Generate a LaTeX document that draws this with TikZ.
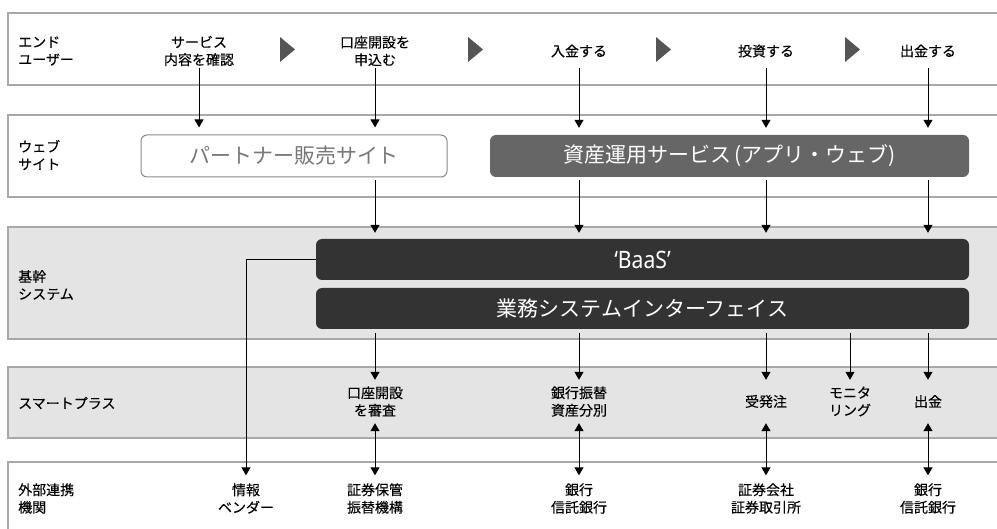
\documentclass[tikz,border=0pt]{standalone}
\usepackage{fontspec}
\setmainfont{Noto Sans CJK JP}[FakeBold=0.15]
\newfontfamily\plainjp{Noto Sans CJK JP}
\newfontfamily\latinfont{Noto Sans}
\usetikzlibrary{arrows.meta}
\definecolor{bandline}{HTML}{A8A8A8}
\definecolor{bandfill}{HTML}{E4E4E4}
\definecolor{darkbox}{HTML}{333333}
\definecolor{midbox}{HTML}{666666}
\definecolor{tricol}{HTML}{555555}
\definecolor{ptext}{HTML}{777777}
\definecolor{pline}{HTML}{888888}
\begin{document}
\begin{tikzpicture}[x=1pt,y=-1pt,
  band/.style={draw=bandline, line width=1.5pt},
  small/.style={font=\fontsize{14}{17.5}\selectfont},
  lbl/.style={small, align=left, anchor=west, inner sep=0pt},
  toptxt/.style={small, align=center, inner sep=0pt, minimum height=34pt},
  smarttxt/.style={small, align=center, inner sep=0pt, minimum height=43pt},
  exttxt/.style={small, align=center, inner sep=0pt, minimum height=46pt},
  bigbox/.style={rounded corners=6pt, inner sep=0pt, font=\plainjp\fontsize{21}{24}\selectfont},
  arr/.style={-{Triangle[length=8pt,width=9pt]}, line width=1pt},
  darr/.style={{Triangle[length=8pt,width=9pt]}-{Triangle[length=8pt,width=9pt]}, line width=1pt},
  tri/.style={fill=tricol}
]
\useasboundingbox (0,0) rectangle (997,529);
% bands
\draw[band] (8,13) rectangle (1010,85);
\draw[band] (8,115) rectangle (1010,197);
\draw[band, fill=bandfill] (8,227) rectangle (1010,339);
\draw[band, fill=bandfill] (8,367) rectangle (1010,438);
\draw[band] (8,462) rectangle (1010,545);
% row labels
\node[lbl] (L1) at (18,51) {エンド\\ユーザー};
\node[lbl] (L2) at (18,155) {ウェブ\\サイト};
\node[lbl] (L3) at (18,285) {基幹\\システム};
\node[lbl] (L4) at (18,403) {スマートプラス};
\node[lbl] (L5) at (18,498.5) {外部連携\\機関};
% top row
\node[toptxt] (t1) at (199,51) {サービス\\内容を確認};
\node[toptxt] (t2) at (375,51) {口座開設を\\申込む};
\node[toptxt] (t3) at (579,51) {入金する};
\node[toptxt] (t4) at (766,51) {投資する};
\node[toptxt] (t5) at (928,51) {出金する};
\fill[tri] (280,37) -- (295,49.5) -- (280,62) -- cycle;
\fill[tri] (468,37) -- (483,49.5) -- (468,62) -- cycle;
\fill[tri] (656,37) -- (671,49.5) -- (656,62) -- cycle;
\fill[tri] (845,37) -- (860,49.5) -- (845,62) -- cycle;
% web boxes
\node[bigbox, draw=pline, line width=1pt, text=ptext, minimum width=306pt, minimum height=42pt] (partner) at (294,156) {パートナー販売サイト};
\node[bigbox, fill=midbox, text=white, minimum width=479pt, minimum height=42pt] (asset) at (729.5,156) {資産運用サービス\,(アプリ・ウェブ)};
% core boxes
\node[bigbox, fill=darkbox, text=white, minimum width=653pt, minimum height=41pt] (baas) at (642.5,259.5) {\latinfont\fontsize{24}{26}\selectfont\scalebox{0.88}[1]{‘BaaS’}};
\node[bigbox, fill=darkbox, text=white, minimum width=653pt, minimum height=41pt] (biz) at (642.5,308.5) {業務システムインターフェイス};
% smart plus
\node[smarttxt] (s2) at (375,401.5) {口座開設\\を審査};
\node[smarttxt] (s3) at (579,401.5) {銀行振替\\資産分別};
\node[smarttxt] (s4) at (766,401.5) {受発注};
\node[smarttxt] (sm) at (850,401.5) {モニタ\\リング};
\node[smarttxt] (s5) at (928,401.5) {出金};
% external
\node[exttxt] (e0) at (246,498.5) {情報\\ベンダー};
\node[exttxt] (e2) at (375,498.5) {証券保管\\振替機構};
\node[exttxt] (e3) at (579,498.5) {銀行\\信託銀行};
\node[exttxt] (e4) at (766,498.5) {証券会社\\証券取引所};
\node[exttxt] (e5) at (928,498.5) {銀行\\信託銀行};
% arrows top -> web
\draw[arr, shorten >=7pt] (t1.south) -- (t1.south |- partner.north);
\draw[arr, shorten >=7pt] (t2.south) -- (t2.south |- partner.north);
\draw[arr, shorten >=7pt] (t3.south) -- (t3.south |- asset.north);
\draw[arr, shorten >=7pt] (t4.south) -- (t4.south |- asset.north);
\draw[arr, shorten >=7pt] (t5.south) -- (t5.south |- asset.north);
% web -> baas
\draw[arr, shorten <=3pt, shorten >=6pt] (partner.south -| t2) -- (baas.north -| t2);
\draw[arr, shorten <=3pt, shorten >=6pt] (asset.south -| t3) -- (baas.north -| t3);
\draw[arr, shorten <=3pt, shorten >=6pt] (asset.south -| t4) -- (baas.north -| t4);
\draw[arr, shorten <=3pt, shorten >=6pt] (asset.south -| t5) -- (baas.north -| t5);
% biz -> smart
\draw[arr, shorten <=4pt] (biz.south -| s2) -- (s2.north);
\draw[arr, shorten <=4pt] (biz.south -| s3) -- (s3.north);
\draw[arr, shorten <=4pt] (biz.south -| s4) -- (s4.north);
\draw[arr, shorten <=4pt] (biz.south -| sm) -- (sm.north);
\draw[arr, shorten <=4pt] (biz.south -| s5) -- (s5.north);
% info vendor
\draw[arr] (baas.west) -| (e0.north);
% smart <-> external
\draw[darr] (s2.south) -- (e2.north);
\draw[darr] (s3.south) -- (e3.north);
\draw[darr] (s4.south) -- (e4.north);
\draw[darr] (s5.south) -- (e5.north);
\end{tikzpicture}
\end{document}
